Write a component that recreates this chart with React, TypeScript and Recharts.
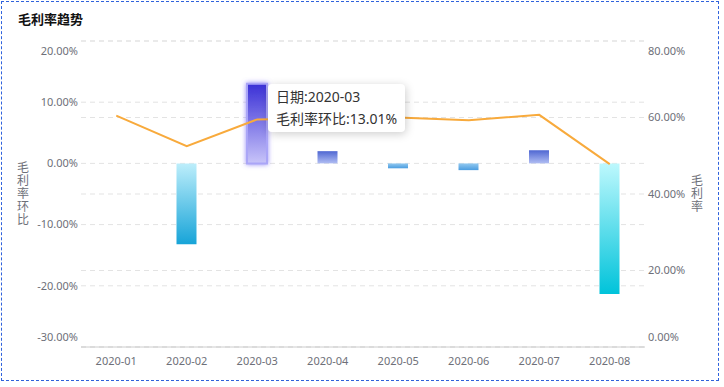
import { Bar, CartesianGrid, Cell, ComposedChart, Line, Tooltip, XAxis, YAxis } from "recharts";

const months = ["2020-01", "2020-02", "2020-03", "2020-04", "2020-05", "2020-06", "2020-07", "2020-08"];
// 毛利率环比 (left axis, bars)
const marginChange: (number | null)[] = [null, -13.2, 13.01, 2.0, -0.8, -1.1, 2.15, -21.35];
// 毛利率 (right axis, line)
const marginRate = [60.5, 52.5, 59.5, 59.8, 60.0, 59.3, 60.7, 47.8];

const leftTicks = [-30, -20, -10, 0, 10, 20];
const rightTicks = [0, 20, 40, 60, 80];

const chartData = months.map((month, i) => ({
  month,
  change: marginChange[i],
  rate: marginRate[i],
}));

// gradient per bar: [top of bar, bottom of bar]
const barGradients: Array<[string, string] | null> = [
  null,
  ["#bdeefb", "#17a4d8"],
  ["#3a30d6", "#c8c4f9"],
  ["#4f67d2", "#b0bdf3"],
  ["#92c9f0", "#4b9de0"],
  ["#92c9f0", "#4b9de0"],
  ["#4f67d2", "#b0bdf3"],
  ["#bdf8fd", "#00c3da"],
];
const activeIndex = 2;

const FONT = '"Noto Sans", "Noto Sans CJK SC", sans-serif';
const AXIS_COLOR = "#6e7079";

function formatPercent(v: number): string {
  return `${v.toFixed(2)}%`;
}

function makeYTick(anchor: "start" | "end", min: number, max: number) {
  return function YTick(props: any) {
    const { x, y, payload } = props;
    let shift = 0;
    if (payload.value === max) shift = 10;
    if (payload.value === min) shift = -10;
    return (
      <text x={x} y={y + shift} dy="0.35em" textAnchor={anchor} fill={AXIS_COLOR} fontSize={11} fontFamily={FONT}>
        {formatPercent(payload.value)}
      </text>
    );
  };
}

function verticalTitle(text: string, dx: number) {
  return function VerticalTitle(props: any) {
    const vb = props.viewBox;
    if (!vb) return null;
    const chars = Array.from(text);
    const lineHeight = 13;
    const cx = vb.x + dx;
    const startY = vb.y + vb.height / 2 - ((chars.length - 1) * lineHeight) / 2;
    return (
      <text fill={AXIS_COLOR} fontSize={12} fontFamily={FONT} textAnchor="middle">
        {chars.map((c, i) => (
          <tspan key={i} x={cx} y={startY + i * lineHeight} dy="0.35em">
            {c}
          </tspan>
        ))}
      </text>
    );
  };
}

function TooltipBox({ payload }: any) {
  const row = payload?.[0]?.payload;
  if (!row) return null;
  return (
    <div
      style={{
        background: "#fff",
        padding: "2px 8px 3px",
        boxShadow: "rgba(0, 0, 0, 0.2) 1px 2px 10px",
        borderRadius: 4,
        fontSize: 14,
        lineHeight: "21.5px",
        color: "#333",
        fontFamily: FONT,
        whiteSpace: "nowrap",
      }}
    >
      <div>日期:{row.month}</div>
      <div>毛利率环比:{formatPercent(row.change)}</div>
    </div>
  );
}

export default function App() {
  return (
    <div style={{ position: "relative", width: 724, height: 387, background: "#fff", fontFamily: FONT }}>
      <style>{"body{margin:0}"}</style>
      <div
        style={{
          position: "absolute",
          left: 1,
          top: 1,
          width: 718,
          height: 380,
          boxSizing: "border-box",
          border: "1px dashed #2f62dc",
          pointerEvents: "none",
        }}
      />
      <div
        style={{
          position: "absolute",
          left: 18,
          top: 9,
          fontSize: 13,
          fontWeight: 700,
          color: "#111",
          fontFamily: '"Noto Sans CJK SC", sans-serif',
        }}
      >
        毛利率趋势
      </div>
      <ComposedChart
        width={724}
        height={387}
        data={chartData}
        margin={{ top: 41, right: 19, bottom: 10, left: 10 }}
      >
        <defs>
          {barGradients.map((g, i) =>
            g ? (
              <linearGradient key={i} id={`barGrad${i}`} x1="0" y1="0" x2="0" y2="1">
                <stop offset="0%" stopColor={g[0]} />
                <stop offset="100%" stopColor={g[1]} />
              </linearGradient>
            ) : null
          )}
          <filter id="barGlow" x="-50%" y="-20%" width="200%" height="140%">
            <feDropShadow dx="0" dy="0" stdDeviation="2.5" floodColor="#7b6cf5" floodOpacity="0.8" />
          </filter>
        </defs>
        <CartesianGrid yAxisId="left" vertical={false} stroke="#e3e3e3" strokeDasharray="5 4" />
        <CartesianGrid yAxisId="right" vertical={false} stroke="#e3e3e3" strokeDasharray="5 4" />
        <XAxis
          dataKey="month"
          axisLine={{ stroke: "#cccccc" }}
          tickLine={false}
          tickSize={0}
          tickMargin={10}
          height={30}
          tick={{ fill: AXIS_COLOR, fontSize: 11, fontFamily: FONT }}
          interval={0}
        />
        <YAxis
          yAxisId="left"
          orientation="left"
          width={71}
          domain={[-30, 20]}
          ticks={leftTicks}
          axisLine={false}
          tickLine={false}
          tickSize={0}
          tickMargin={3}
          tick={makeYTick("end", -30, 20)}
          label={{ content: verticalTitle("毛利率环比", 13) }}
        />
        <YAxis
          yAxisId="right"
          orientation="right"
          width={60}
          domain={[0, 80]}
          ticks={rightTicks}
          axisLine={false}
          tickLine={false}
          tickSize={0}
          tickMargin={3}
          tick={makeYTick("start", 0, 80)}
          label={{ content: verticalTitle("毛利率", 52) }}
        />
        <Tooltip
          active
          defaultIndex={activeIndex}
          cursor={false}
          position={{ x: 268, y: 84 }}
          content={TooltipBox}
          isAnimationActive={false}
          wrapperStyle={{ zIndex: 10 }}
        />
        <Line
          yAxisId="right"
          dataKey="rate"
          name="毛利率"
          type="linear"
          stroke="#f8aa3c"
          strokeWidth={2}
          dot={false}
          activeDot={false}
          isAnimationActive={false}
        />
        <Bar yAxisId="left" dataKey="change" name="毛利率环比" barSize={20} isAnimationActive={false}>
          {chartData.map((_, i) => (
            <Cell
              key={i}
              fill={`url(#barGrad${i})`}
              stroke={i === activeIndex ? "#aaa5f7" : "none"}
              strokeWidth={i === activeIndex ? 2 : 0}
              filter={i === activeIndex ? "url(#barGlow)" : undefined}
            />
          ))}
        </Bar>
      </ComposedChart>
    </div>
  );
}
